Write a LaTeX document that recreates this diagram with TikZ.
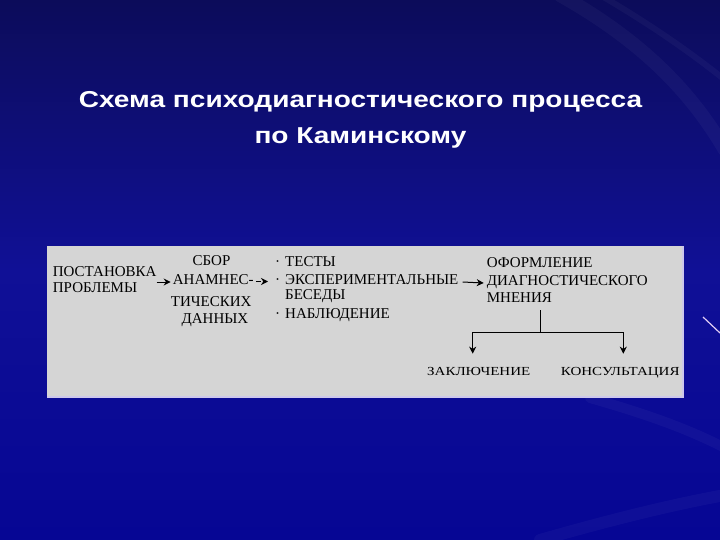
\documentclass[tikz,border=0pt]{standalone}
\usepackage{fontspec}
\setmainfont{Liberation Serif}
\newfontfamily\titlefont{Liberation Sans}
\usetikzlibrary{arrows.meta,calc}
\definecolor{bgtop}{RGB}{12,12,90}
\definecolor{bgmid}{RGB}{16,16,150}
\definecolor{bgbot}{RGB}{6,6,148}
\definecolor{boxgrey}{RGB}{213,213,213}
\definecolor{boxedge}{RGB}{205,200,235}
\definecolor{streak}{RGB}{225,205,245}
\newcommand\bulmk{\makebox[10pt][l]{·}}
\newcommand\widettl[1]{\scalebox{1.22}[1]{#1}}
\tikzset{
  ttl/.style={text=white, font=\titlefont\bfseries\fontsize{23}{28}\selectfont, inner sep=0pt, anchor=base},
  lbl/.style={font=\fontsize{15}{18}\selectfont, inner sep=0pt, anchor=base west, text=black},
  arr/.style={-{Stealth[length=7pt,width=7pt]}, line width=1pt, draw=black},
  ln/.style={line width=1pt, draw=black},
  glow/.style={draw=white, opacity=0.035, line cap=round},
}
\begin{document}
\begin{tikzpicture}[x=1pt,y=-1pt]
\useasboundingbox (0,0) rectangle (720,540);
\shade[top color=bgtop, bottom color=bgbot, middle color=bgmid] (0,0) rectangle (720,540);
% faint background streaks
\draw[glow, line width=14pt] (560,-5) .. controls (640,40) and (690,90) .. (725,150);
\draw[glow, line width=6pt] (600,-5) .. controls (660,30) and (700,60) .. (725,80);
\draw[glow, line width=10pt] (590,398) .. controls (650,415) and (690,430) .. (725,448);
\draw[glow, line width=12pt] (540,540) .. controls (610,520) and (670,505) .. (725,495);
\draw[streak, line width=1.2pt] (703,317) -- (720,333);
% title
\node[ttl] (t1) at (360.5,108) {\widettl{Схема психодиагностического процесса}};
\node[ttl] (t2) at (360.5,144) {\widettl{по Каминскому}};
% grey panel
\fill[boxgrey] (47,246) rectangle (683,397);
\draw[boxedge, line width=1.2pt] (683,246) -- (683,397) -- (47,397);
\begin{scope}
\clip (47,246) rectangle (682.4,397);
\node[lbl] (post) at (52.7,276) {ПОСТАНОВКА};
\node[lbl] (prob) at (52.7,292) {ПРОБЛЕМЫ};
\node[lbl, anchor=base] (sbor) at (211.5,265) {СБОР};
\node[lbl] (anam) at (172.7,284) {АНАМНЕС-};
\node[lbl] (tich) at (170.7,306) {ТИЧЕСКИХ};
\node[lbl, anchor=base] (dann) at (215,323) {ДАННЫХ};
\node[lbl] (test) at (275,266.7) {\bulmk ТЕСТЫ};
\node[lbl] (expe) at (275,284) {\bulmk ЭКСПЕРИМЕНТАЛЬНЫЕ};
\node[lbl] (bese) at (285,299) {БЕСЕДЫ};
\node[lbl] (nabl) at (275,318) {\bulmk НАБЛЮДЕНИЕ};
\node[lbl] (ofor) at (486.7,267) {ОФОРМЛЕНИЕ};
\node[lbl] (diag) at (486.7,285) {ДИАГНОСТИЧЕСКОГО};
\node[lbl] (mnen) at (486.7,302) {МНЕНИЯ};
\node[lbl] (zakl) at (427,375) {\scalebox{1}[0.82]{ЗАКЛЮЧЕНИЕ}};
\node[lbl] (kons) at (560.7,375) {\scalebox{1}[0.82]{КОНСУЛЬТАЦИЯ}};
% connectors
\draw[arr] ($(post.east |- anam.base west)+(0,-2)$) -- ($(anam.base west)+(-2,-2)$);
\draw[arr, dash pattern=on 5pt off 2pt] ($(anam.base east)+(2,-2.5)$) -- ($(expe.base west)+(-7,-2.5)$);
\draw[arr] ($(expe.base east)+(4,-2)$) -- ($(diag.base west)+(-3,-2)$);
\coordinate (split) at (540.7,332);
\coordinate (lt) at (472.7,332);
\coordinate (rt) at (623.3,332);
\draw[ln] ($(mnen.base -| split)+(0,8)$) -- (split);
\draw[ln] (lt) -- (rt);
\draw[arr] (lt) -- ($(lt |- zakl.north)+(0,-13)$);
\draw[arr] (rt) -- ($(rt |- kons.north)+(0,-13)$);
\end{scope}
\end{tikzpicture}
\end{document}
